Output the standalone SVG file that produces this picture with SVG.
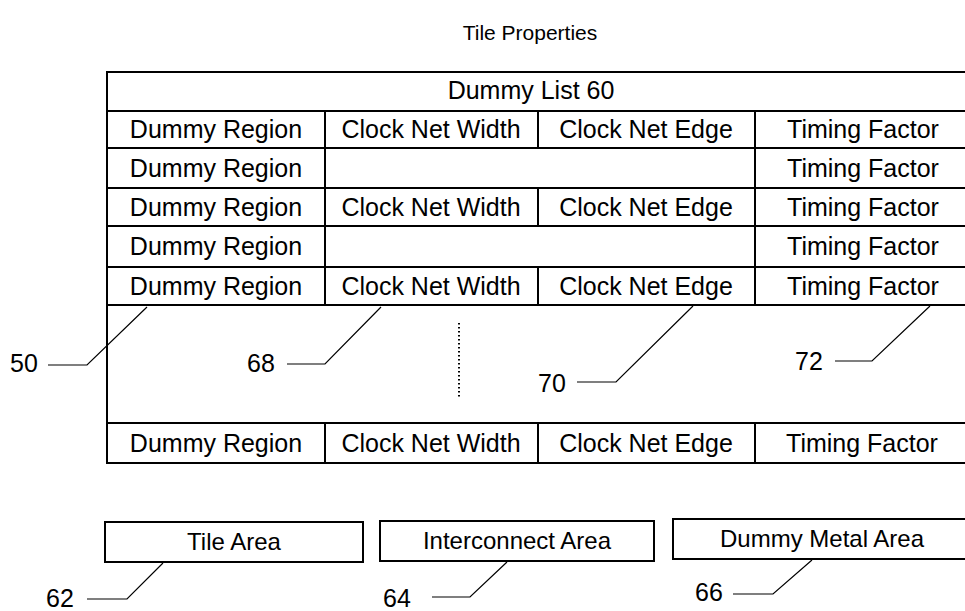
<svg xmlns="http://www.w3.org/2000/svg" width="965" height="611" viewBox="0 0 965 611">
<style>
.b{fill:none;stroke:#000;stroke-width:2}
.l{fill:none;stroke:#000;stroke-width:1.2}
.t{font-family:"Liberation Sans",Arial,sans-serif;font-size:25px;fill:#000;text-anchor:middle}
.s{font-family:"Liberation Sans",Arial,sans-serif;font-size:24px;fill:#000;text-anchor:middle}
.n{font-family:"Liberation Sans",Arial,sans-serif;font-size:25px;fill:#000}
.h{font-family:"Liberation Sans",Arial,sans-serif;font-size:21px;fill:#000;text-anchor:middle}
</style>
<rect width="965" height="611" fill="#fff"/>
<text class="h" x="530" y="40">Tile Properties</text>
<g id="table">
<path class="b" d="M972,72 H107 V463 H972 M107,111 H972 M107,148 H972 M107,188 H972 M107,226 H972 M107,267 H972 M107,305 H972 M107,423 H972"/>
<path class="b" d="M325,111 V305 M538,111 V148 M538,188 V226 M538,267 V305 M755,111 V305 M325,423 V463 M538,423 V463 M755,423 V463"/>
<line x1="459" y1="323" x2="459" y2="398" stroke="#000" stroke-width="2" stroke-dasharray="1.5,2.5"/>
<text class="t" x="531" y="99">Dummy List 60</text>
<text class="t" x="216" y="138">Dummy Region</text>
<text class="t" x="431" y="138">Clock Net Width</text>
<text class="t" x="646" y="138">Clock Net Edge</text>
<text class="t" x="863" y="138">Timing Factor</text>
<text class="t" x="216" y="177">Dummy Region</text>
<text class="t" x="863" y="177">Timing Factor</text>
<text class="t" x="216" y="216">Dummy Region</text>
<text class="t" x="431" y="216">Clock Net Width</text>
<text class="t" x="646" y="216">Clock Net Edge</text>
<text class="t" x="863" y="216">Timing Factor</text>
<text class="t" x="216" y="255">Dummy Region</text>
<text class="t" x="863" y="255">Timing Factor</text>
<text class="t" x="216" y="295">Dummy Region</text>
<text class="t" x="431" y="295">Clock Net Width</text>
<text class="t" x="646" y="295">Clock Net Edge</text>
<text class="t" x="863" y="295">Timing Factor</text>
<text class="t" x="216" y="452">Dummy Region</text>
<text class="t" x="431" y="452">Clock Net Width</text>
<text class="t" x="646" y="452">Clock Net Edge</text>
<text class="t" x="862" y="452">Timing Factor</text>
</g>
<g id="tile-area">
<rect class="b" x="105" y="522" width="258" height="40"/>
<text class="s" x="234" y="550">Tile Area</text>
</g>
<g id="interconnect-area">
<rect class="b" x="380" y="521" width="274" height="40"/>
<text class="s" x="517" y="549">Interconnect Area</text>
</g>
<g id="dummy-metal-area">
<rect class="b" x="673" y="519" width="300" height="40"/>
<text class="s" x="822" y="547">Dummy Metal Area</text>
</g>
<g id="labels">
<text class="n" x="10" y="372">50</text>
<text class="n" x="247" y="372">68</text>
<text class="n" x="538" y="392">70</text>
<text class="n" x="795" y="370">72</text>
<text class="n" x="46" y="607">62</text>
<text class="n" x="383" y="607">64</text>
<text class="n" x="695" y="601">66</text>
</g>
<g id="connectors">
<path class="l" d="M48,365 H87 L147,307"/>
<path class="l" d="M287,364 H325 L381,307"/>
<path class="l" d="M577,382 H616 L693,306"/>
<path class="l" d="M835,361 H872 L930,306"/>
<path class="l" d="M87,599 H127 L163,563"/>
<path class="l" d="M432,597 H470 L507,562"/>
<path class="l" d="M733,594 H773 L812,560"/>
</g>
</svg>
